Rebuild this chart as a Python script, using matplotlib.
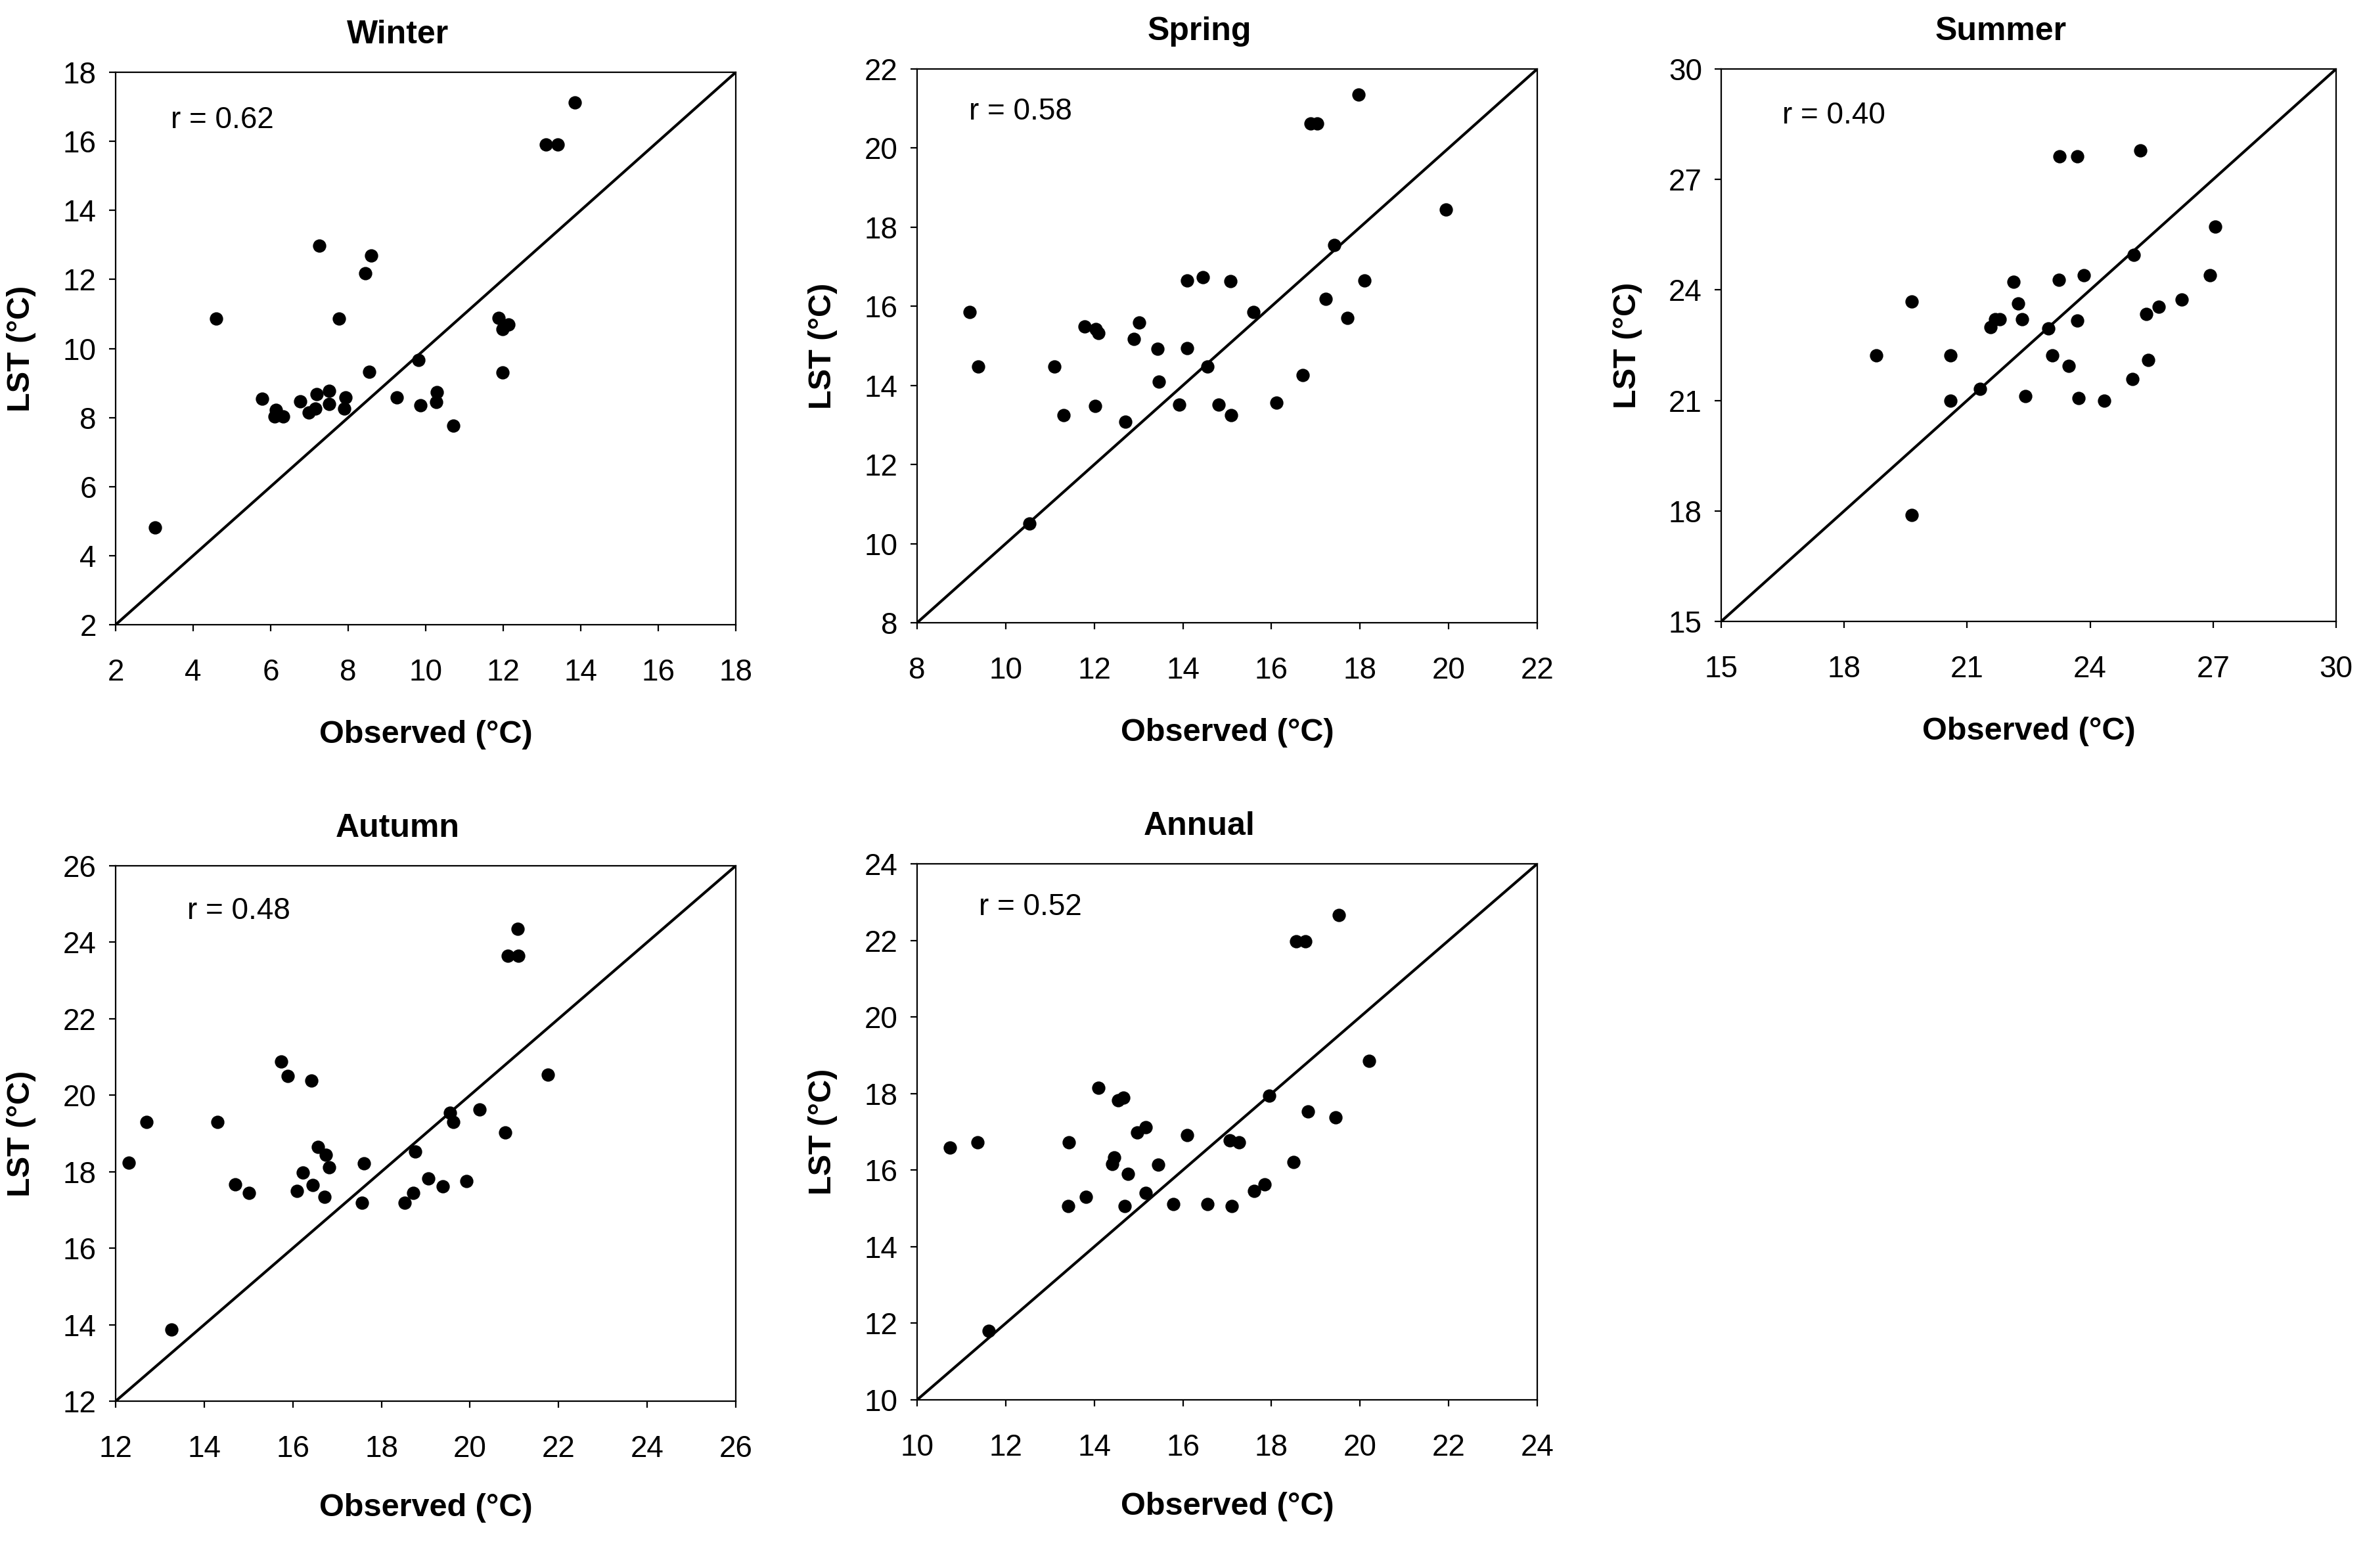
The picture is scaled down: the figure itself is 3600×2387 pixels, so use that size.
import numpy as np
import matplotlib
matplotlib.use("Agg")
import matplotlib.pyplot as plt

plt.rcParams['font.family'] = ['Liberation Sans', 'DejaVu Sans']

## values (observed, LST)
winter_obs = [13.84, 13.1, 13.4, 7.26, 8.6, 8.44, 4.6, 7.76, 11.88, 11.98, 12.14, 9.82, 8.54, 11.99,
              5.78, 6.13, 6.1, 6.33, 6.76, 6.98, 7.19, 7.16, 7.5, 7.51, 7.93, 7.9, 9.26, 9.87,
              10.28, 10.27, 10.71, 3.02]
winter_lst = [17.12, 15.9, 15.9, 12.97, 12.69, 12.18, 10.86, 10.86, 10.89, 10.57, 10.7, 9.66, 9.32, 9.3,
              8.54, 8.22, 8.03, 8.03, 8.46, 8.14, 8.67, 8.26, 8.78, 8.4, 8.59, 8.26, 8.59, 8.36,
              8.73, 8.45, 7.76, 4.81]

spring_obs = [17.96, 16.89, 17.03, 19.94, 17.42, 14.09, 14.45, 15.07, 18.1, 9.19, 15.6, 17.23, 17.72,
              11.78, 12.04, 12.1, 13.02, 12.9, 13.43, 14.09, 9.38, 11.1, 14.55, 13.46, 16.7, 11.31,
              12.02, 13.92, 14.81, 15.09, 16.11, 12.7, 10.54]
spring_lst = [21.35, 20.62, 20.62, 18.45, 17.55, 16.66, 16.74, 16.63, 16.66, 15.85, 15.85, 16.19, 15.71,
              15.49, 15.42, 15.33, 15.59, 15.18, 14.93, 14.95, 14.47, 14.48, 14.47, 14.09, 14.26, 13.24,
              13.48, 13.51, 13.51, 13.24, 13.57, 13.08, 10.51]

summer_obs = [23.26, 23.69, 25.22, 27.05, 25.06, 26.93, 22.13, 23.23, 23.85, 19.65, 22.24, 22.34, 26.24,
              25.67, 25.37, 23.69, 21.57, 21.69, 21.79, 22.98, 18.79, 20.59, 23.07, 23.47, 25.41, 25.04,
              21.31, 20.59, 22.42, 23.72, 24.35, 19.65]
summer_lst = [27.62, 27.62, 27.78, 25.72, 24.96, 24.4, 24.23, 24.28, 24.4, 23.68, 23.64, 23.21, 23.74,
              23.55, 23.34, 23.16, 22.99, 23.2, 23.21, 22.96, 22.22, 22.22, 22.22, 21.93, 22.09, 21.58,
              21.32, 20.99, 21.11, 21.06, 20.99, 17.89]

autumn_obs = [21.07, 20.85, 21.09, 15.73, 15.89, 16.42, 21.76, 12.7, 14.3, 19.55, 19.63, 20.21, 20.79,
              12.3, 16.57, 16.75, 16.82, 16.22, 17.6, 18.77, 14.7, 15.01, 16.1, 16.45, 16.71, 17.56,
              18.53, 18.72, 19.06, 19.39, 19.92, 13.26]
autumn_lst = [24.35, 23.64, 23.64, 20.88, 20.51, 20.39, 20.53, 19.3, 19.3, 19.54, 19.3, 19.63, 19.02,
              18.24, 18.64, 18.44, 18.12, 17.98, 18.21, 18.53, 17.67, 17.44, 17.49, 17.66, 17.35, 17.19,
              17.19, 17.44, 17.83, 17.62, 17.75, 13.87]

annual_obs = [19.52, 18.55, 18.76, 20.21, 14.1, 14.54, 14.65, 17.95, 18.82, 19.44, 15.16, 14.97, 16.09,
              17.06, 17.27, 10.74, 11.36, 13.43, 14.45, 14.4, 15.44, 14.76, 18.5, 13.81, 15.16, 13.41,
              14.68, 15.78, 16.56, 17.1, 17.61, 17.84, 11.61]
annual_lst = [22.67, 21.97, 21.97, 18.86, 18.15, 17.82, 17.9, 17.94, 17.53, 17.37, 17.12, 16.99, 16.91,
              16.77, 16.72, 16.58, 16.73, 16.73, 16.33, 16.16, 16.15, 15.91, 16.21, 15.31, 15.41, 15.06,
              15.06, 15.12, 15.12, 15.06, 15.45, 15.62, 11.81]

titles = ['Winter', 'Spring', 'Summer', 'Autumn', 'Annual']
r_values = ['0.62', '0.58', '0.40', '0.48', '0.52']
limits = [(2, 18, 2), (8, 22, 2), (15, 30, 3), (12, 26, 2), (10, 24, 2)]
obs = [winter_obs, spring_obs, summer_obs, autumn_obs, annual_obs]
lst = [winter_lst, spring_lst, summer_lst, autumn_lst, annual_lst]

# axes boxes in pixels of the 3600x2387 figure: left, right, top, bottom
W, H = 3600, 2387
boxes = [(176, 1120, 110, 951), (1396, 2340, 105, 948), (2620, 3556, 105, 946),
         (176, 1120, 1318, 2133), (1396, 2340, 1315, 2131)]
r_pos = [(0.089, 0.913), (0.084, 0.923), (0.099, 0.915), (0.115, 0.915), (0.10, 0.919)]

fig = plt.figure(figsize=(W / 200, H / 200), dpi=200)

for i in range(5):
    l, r, t, b = boxes[i]
    ax = fig.add_axes([l / W, 1 - b / H, (r - l) / W, (b - t) / H])
    lo, hi, step = limits[i]
    ax.plot([lo, hi], [lo, hi], color='black', lw=1.5, zorder=1)
    ax.plot(obs[i], lst[i], 'o', color='black', ms=6.3, zorder=2)
    ax.set_xlim(lo, hi)
    ax.set_ylim(lo, hi)
    ax.set_xticks(np.arange(lo, hi + 0.1, step))
    ax.set_yticks(np.arange(lo, hi + 0.1, step))
    ax.tick_params(axis='both', direction='out', length=3.5, width=0.8, labelsize=16.5)
    ax.tick_params(axis='x', pad=15)
    ax.tick_params(axis='y', pad=7)
    for s in ax.spines.values():
        s.set_linewidth(0.8)
    # titles sit a little left of the axes centre in the original
    ax.set_title(titles[i], fontsize=18, fontweight='bold', pad=16, x=0.455)
    ax.set_xlabel('Observed (°C)', fontsize=17.5, fontweight='bold')
    ax.set_ylabel('LST (°C)', fontsize=17.5, fontweight='bold')
    ax.xaxis.set_label_coords(0.5, -0.172)
    ax.yaxis.set_label_coords(-0.128, 0.5)
    ax.text(r_pos[i][0], r_pos[i][1], 'r = ' + r_values[i], transform=ax.transAxes,
            fontsize=16.5, ha='left', va='center')

fig.savefig('out.png', dpi=200)
